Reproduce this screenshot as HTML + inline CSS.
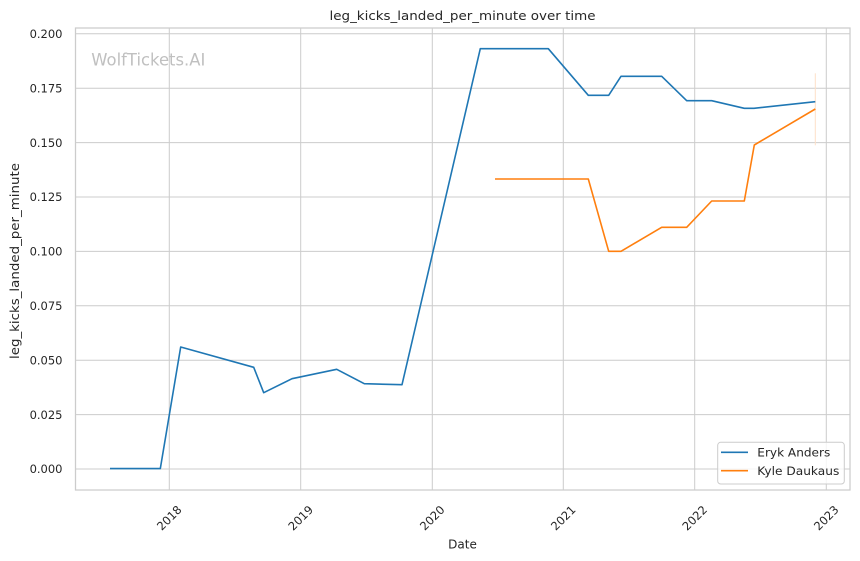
<!DOCTYPE html>
<html>
<head>
<meta charset="utf-8">
<style>
  html, body { margin:0; padding:0; background:#ffffff; }
  svg { display:block; }
  text { font-family: "DejaVu Sans", "Liberation Sans", sans-serif; fill:#262626; }
</style>
</head>
<body>
<svg width="860" height="561" viewBox="0 0 860 561" xmlns="http://www.w3.org/2000/svg">
  <rect x="0" y="0" width="860" height="561" fill="#ffffff"/>

  <!-- grid: horizontal -->
  <g stroke="#cccccc" stroke-width="1">
    <line x1="75.5" y1="469" x2="850" y2="469"/>
    <line x1="75.5" y1="414.6" x2="850" y2="414.6"/>
    <line x1="75.5" y1="360.2" x2="850" y2="360.2"/>
    <line x1="75.5" y1="305.8" x2="850" y2="305.8"/>
    <line x1="75.5" y1="251.4" x2="850" y2="251.4"/>
    <line x1="75.5" y1="197" x2="850" y2="197"/>
    <line x1="75.5" y1="142.6" x2="850" y2="142.6"/>
    <line x1="75.5" y1="88.2" x2="850" y2="88.2"/>
    <line x1="75.5" y1="33.8" x2="850" y2="33.8"/>
  </g>
  <!-- grid: vertical -->
  <g stroke="#cccccc" stroke-width="1">
    <line x1="169.3" y1="28" x2="169.3" y2="490"/>
    <line x1="300.7" y1="28" x2="300.7" y2="490"/>
    <line x1="432.3" y1="28" x2="432.3" y2="490"/>
    <line x1="563.3" y1="28" x2="563.3" y2="490"/>
    <line x1="694.7" y1="28" x2="694.7" y2="490"/>
    <line x1="826.3" y1="28" x2="826.3" y2="490"/>
  </g>

  <!-- spines -->
  <rect x="75.5" y="28" width="774.5" height="462" fill="none" stroke="#cccccc" stroke-width="1.25"/>

  <!-- watermark -->
  <text x="91.3" y="65.5" font-size="17" textLength="114" lengthAdjust="spacingAndGlyphs" style="fill:#c0c0c0">WolfTickets.AI</text>

  <!-- faint vertical error line -->
  <line x1="815.3" y1="73.3" x2="815.3" y2="145.3" stroke="#fde0c8" stroke-width="1"/>

  <!-- Eryk Anders -->
  <polyline fill="none" stroke="#1f77b4" stroke-width="1.6" stroke-linejoin="round" stroke-linecap="butt"
    points="110,468.6 160.3,468.6 180.7,347 253.7,367.3 263.7,392.7 292,378.7 336.7,369.3 364.3,383.7 402,384.7 480.3,48.7 548.3,48.7 588.3,95.3 608.7,95.3 621,76.3 661.7,76.3 686.7,100.7 711.7,100.7 744.3,108.3 754,108.3 815.3,101.7"/>

  <!-- Kyle Daukaus -->
  <polyline fill="none" stroke="#ff7f0e" stroke-width="1.6" stroke-linejoin="round" stroke-linecap="butt"
    points="495,179 588.3,179 608.7,251.3 621,251.3 661.7,227.3 686.7,227.3 711.7,201 744.3,201 754.3,145 815.3,109"/>

  <!-- y tick labels -->
  <g font-size="11.5" text-anchor="end">
    <text x="62.5" y="473.2">0.000</text>
    <text x="62.5" y="418.8">0.025</text>
    <text x="62.5" y="364.4">0.050</text>
    <text x="62.5" y="310">0.075</text>
    <text x="62.5" y="255.6">0.100</text>
    <text x="62.5" y="201.2">0.125</text>
    <text x="62.5" y="146.8">0.150</text>
    <text x="62.5" y="92.4">0.175</text>
    <text x="62.5" y="38">0.200</text>
  </g>

  <!-- x tick labels -->
  <g font-size="11.5" text-anchor="middle">
    <text x="169.3" y="522" transform="rotate(-45 169.3 518)">2018</text>
    <text x="300.7" y="522" transform="rotate(-45 300.7 518)">2019</text>
    <text x="432.3" y="522" transform="rotate(-45 432.3 518)">2020</text>
    <text x="563.3" y="522" transform="rotate(-45 563.3 518)">2021</text>
    <text x="694.7" y="522" transform="rotate(-45 694.7 518)">2022</text>
    <text x="826.3" y="522" transform="rotate(-45 826.3 518)">2023</text>
  </g>

  <!-- axis labels -->
  <text x="462.5" y="548.3" font-size="12" text-anchor="middle">Date</text>
  <text transform="translate(18.8 261) rotate(-90)" font-size="12" text-anchor="middle" textLength="196" lengthAdjust="spacingAndGlyphs">leg_kicks_landed_per_minute</text>

  <!-- title -->
  <text x="462.5" y="20" font-size="12" text-anchor="middle" textLength="266" lengthAdjust="spacingAndGlyphs">leg_kicks_landed_per_minute over time</text>

  <!-- legend -->
  <rect x="717.7" y="442.3" width="126.6" height="41.7" rx="3" ry="3" fill="#ffffff" fill-opacity="0.8" stroke="#cccccc" stroke-width="1"/>
  <line x1="721" y1="452.3" x2="748" y2="452.3" stroke="#1f77b4" stroke-width="1.6"/>
  <line x1="721" y1="470.7" x2="748" y2="470.7" stroke="#ff7f0e" stroke-width="1.6"/>
  <g font-size="11.5">
    <text x="757.3" y="456.6" textLength="73" lengthAdjust="spacingAndGlyphs">Eryk Anders</text>
    <text x="757.3" y="475" textLength="82" lengthAdjust="spacingAndGlyphs">Kyle Daukaus</text>
  </g>
</svg>
</body>
</html>
